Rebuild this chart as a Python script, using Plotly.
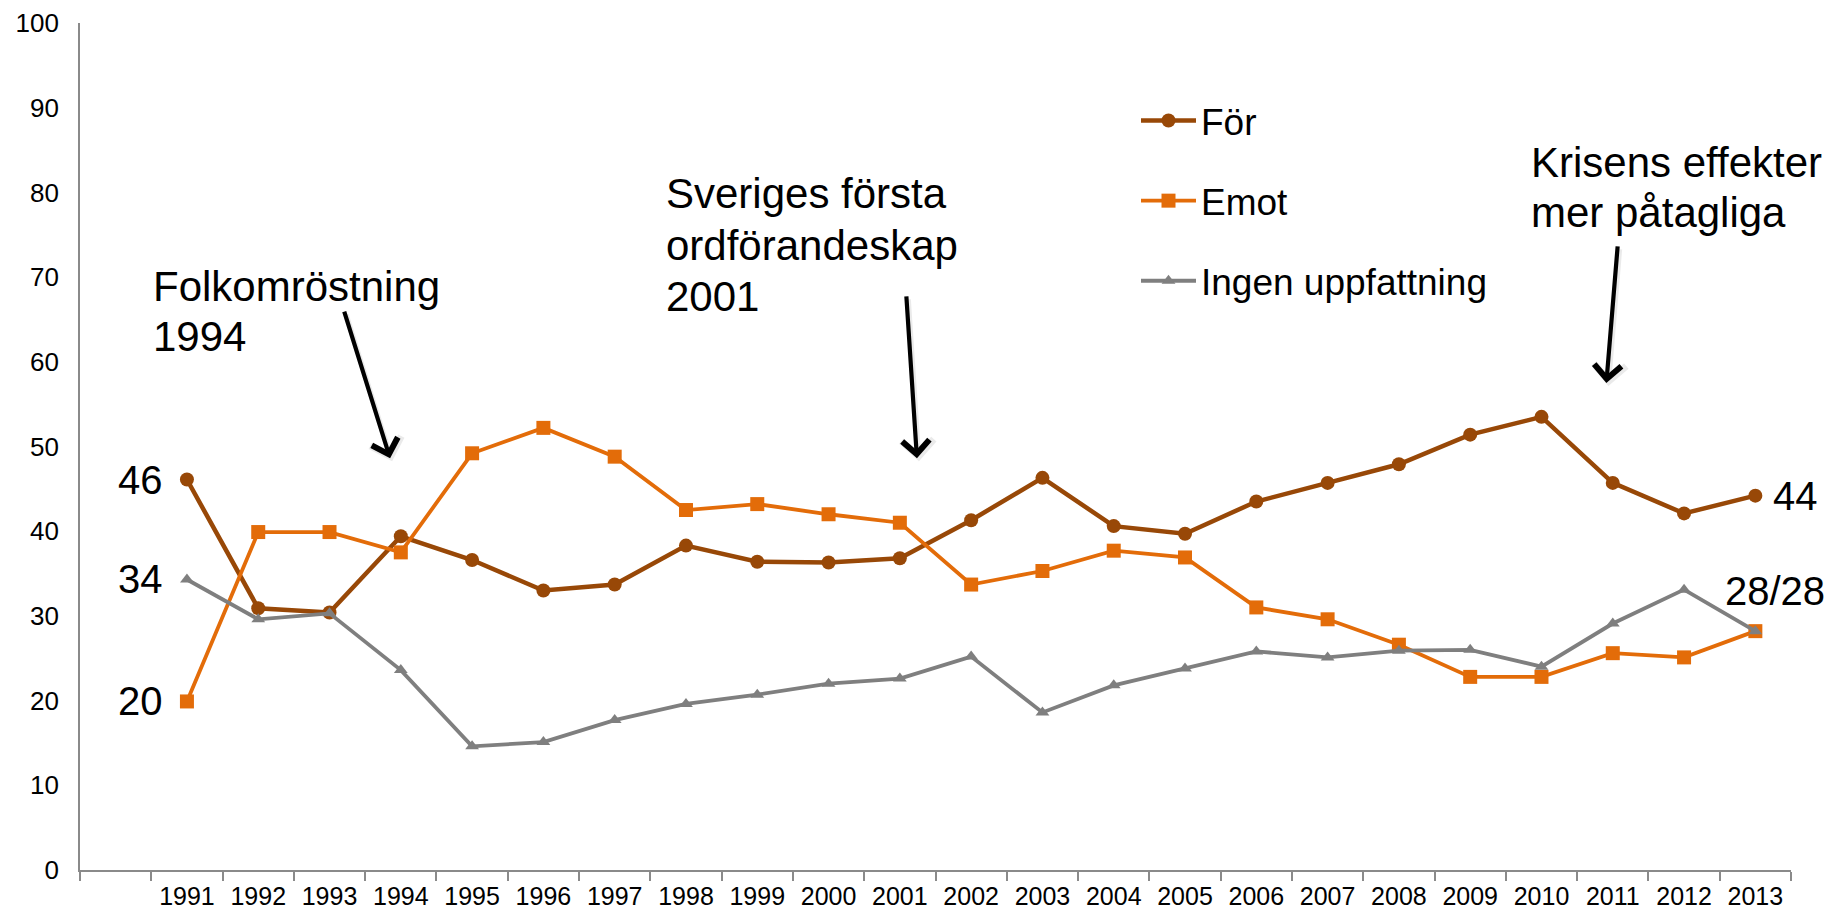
import plotly.graph_objects as go

# ---- data ----
years = [1991, 1992, 1993, 1994, 1995, 1996, 1997, 1998, 1999, 2000, 2001, 2002,
         2003, 2004, 2005, 2006, 2007, 2008, 2009, 2010, 2011, 2012, 2013]
year_labels = [str(y) for y in years]

for_ = [46.1, 30.9, 30.4, 39.4, 36.6, 33.0, 33.7, 38.3, 36.4, 36.3, 36.8, 41.3,
        46.3, 40.6, 39.7, 43.5, 45.7, 47.9, 51.4, 53.5, 45.7, 42.1, 44.2]
emot = [19.9, 39.9, 39.9, 37.5, 49.2, 52.2, 48.8, 42.5, 43.2, 42.0, 41.0, 33.7,
        35.3, 37.7, 36.9, 31.0, 29.6, 26.6, 22.8, 22.8, 25.6, 25.1, 28.2]
ingen = [34.3, 29.6, 30.3, 23.6, 14.6, 15.1, 17.7, 19.6, 20.7, 22.0, 22.6, 25.2,
         18.6, 21.8, 23.8, 25.8, 25.1, 25.9, 26.0, 24.0, 29.1, 33.1, 28.2]

series_names = ["För", "Emot", "Ingen uppfattning"]

C_FOR = "#984807"
C_EMOT = "#E36C09"
C_INGEN = "#7F7F7F"
AXIS_C = "#8A8A8A"
FONT = "Liberation Sans, Arial, sans-serif"

W, H = 1835, 912
ML, MR, MT, MB = 80, 44, 23, 42

fig = go.Figure()
fig.add_trace(go.Scatter(x=years, y=for_, name=series_names[0], mode="lines+markers",
                         line=dict(color=C_FOR, width=4.5),
                         marker=dict(symbol="circle", size=14, color=C_FOR),
                         legendgroup="a"))
fig.add_trace(go.Scatter(x=years, y=emot, name=series_names[1], mode="lines+markers",
                         line=dict(color=C_EMOT, width=3.8),
                         marker=dict(symbol="square", size=14, color=C_EMOT),
                         legendgroup="b"))
fig.add_trace(go.Scatter(x=years, y=ingen, name=series_names[2], mode="lines+markers",
                         line=dict(color=C_INGEN, width=3.8),
                         marker=dict(symbol="triangle-up", size=12, color=C_INGEN),
                         legendgroup="c"))

plot_w = W - ML - MR
plot_h = H - MT - MB


def px_x(px):
    return (px - ML) / plot_w


def px_y(py):
    return (H - MB - py) / plot_h


annotations = []

# arrows (tail -> head) in data coordinates
arrows = [
    ((1993.20, 66.1), (1993.85, 48.6)),
    ((2001.09, 67.9), (2001.24, 48.6)),
    ((2011.07, 73.8), (2010.91, 57.5)),
]
for (tx, ty), (hx, hy) in arrows:
    # soft shadow
    annotations.append(dict(x=hx, y=hy, ax=tx, ay=ty, xref="x", yref="y", axref="x", ayref="y",
                            text="", showarrow=True, arrowhead=4, arrowsize=1.25,
                            arrowwidth=5.0, arrowcolor="rgba(0,0,0,0.08)", standoff=0,
                            xshift=2, yshift=-3))
    annotations.append(dict(x=hx, y=hy, ax=tx, ay=ty, xref="x", yref="y", axref="x", ayref="y",
                            text="", showarrow=True, arrowhead=4, arrowsize=1.25,
                            arrowwidth=4.2, arrowcolor="#000000", standoff=0))

# event text blocks (one annotation per line)
blocks = [
    (151, ["Folkomröstning", "1994"], [286, 336]),
    (664, ["Sveriges första", "ordförandeskap", "2001"], [194, 245, 296]),
    (1529, ["Krisens effekter", "mer påtagliga"], [162, 212]),
]
for left, lines, ys in blocks:
    for txt, yy in zip(lines, ys):
        annotations.append(dict(x=px_x(left), y=px_y(yy), xref="paper", yref="paper",
                                text=txt, showarrow=False, xanchor="left", yanchor="middle",
                                font=dict(family=FONT, size=42, color="#000000")))

# value labels
lab_font = dict(family=FONT, size=40, color="#000000")
annotations += [
    dict(x=years[0], y=for_[0], text=f"{round(for_[0])}", showarrow=False,
         xanchor="right", yanchor="middle", xshift=-22, font=lab_font),
    dict(x=years[0], y=ingen[0], text=f"{round(ingen[0])}", showarrow=False,
         xanchor="right", yanchor="middle", xshift=-22, font=lab_font),
    dict(x=years[0], y=emot[0], text=f"{round(emot[0])}", showarrow=False,
         xanchor="right", yanchor="middle", xshift=-22, font=lab_font),
    dict(x=years[-1], y=for_[-1], text=f"{round(for_[-1])}", showarrow=False,
         xanchor="left", yanchor="middle", xshift=16, font=lab_font),
    dict(x=years[-1], y=ingen[-1], text=f"{round(emot[-1])}/{round(ingen[-1])}", showarrow=False,
         xanchor="left", yanchor="middle", xshift=-32, yshift=40, font=lab_font),
]

fig.update_layout(
    width=W, height=H,
    margin=dict(l=ML, r=MR, t=MT, b=MB, pad=0, autoexpand=False),
    paper_bgcolor="white", plot_bgcolor="white",
    font=dict(family=FONT, color="#000000"),
    showlegend=True,
    legend=dict(x=px_x(1136), y=px_y(90), xanchor="left", yanchor="top",
                font=dict(family=FONT, size=37, color="#000000"),
                tracegroupgap=29, itemwidth=55, bgcolor="rgba(0,0,0,0)", itemclick=False),
    annotations=annotations,
    xaxis=dict(range=[1989.5, 2013.5], tickmode="array", tickvals=years, ticktext=year_labels,
               ticks="", showgrid=False, zeroline=False, showline=True, automargin=False,
               linecolor=AXIS_C, linewidth=1.6, ticklabelstandoff=3,
               tickfont=dict(family=FONT, size=25, color="#000000"),
               minor=dict(tick0=1989.5, dtick=1, ticks="outside", ticklen=9,
                          tickwidth=1.5, tickcolor=AXIS_C, showgrid=False)),
    yaxis=dict(range=[0, 100], tickmode="linear", tick0=0, dtick=10, ticks="",
               showgrid=False, zeroline=False, showline=True, automargin=False,
               linecolor=AXIS_C, linewidth=1.6, ticklabelstandoff=14,
               tickfont=dict(family=FONT, size=26, color="#000000")),
)

fig.write_html("out.html", config={"displayModeBar": False},
               post_script="document.body.style.margin='0px';")
